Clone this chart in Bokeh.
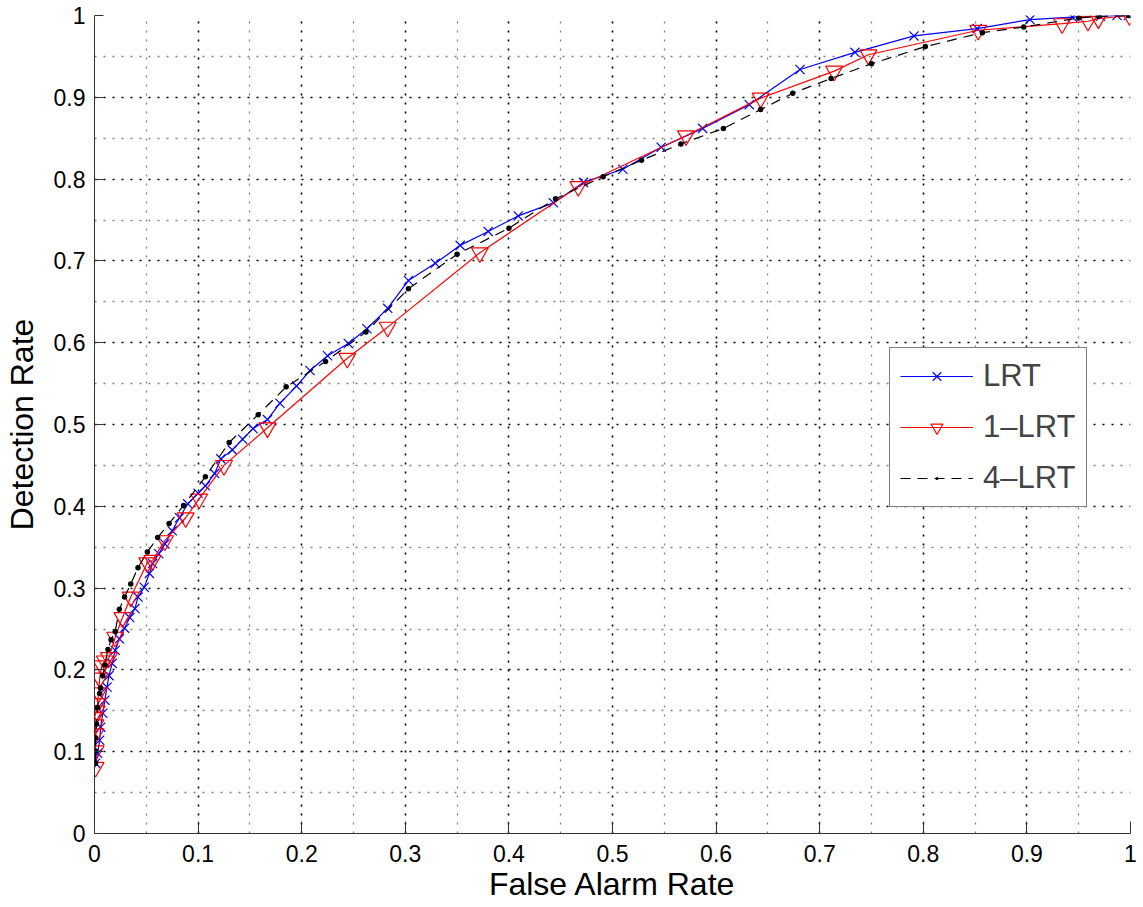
from bokeh.plotting import figure
from bokeh.models import FixedTicker, Legend, LegendItem, Range1d
from bokeh.embed import file_html
from bokeh.resources import INLINE

# ---- data ----
lrt_x = [0.001, 0.003, 0.005, 0.006, 0.008, 0.010, 0.012, 0.014, 0.017, 0.020,
         0.024, 0.029, 0.034, 0.039, 0.042, 0.048, 0.053, 0.056, 0.062, 0.068,
         0.075, 0.082, 0.090, 0.100, 0.107, 0.116, 0.122, 0.133, 0.143, 0.153,
         0.167, 0.179, 0.195, 0.208, 0.225, 0.245, 0.263, 0.283, 0.303, 0.329,
         0.353, 0.380, 0.409, 0.443, 0.472, 0.510, 0.547, 0.587, 0.632, 0.681,
         0.734, 0.791, 0.852, 0.903, 0.944, 0.971, 0.987, 0.998]
lrt_y = [0.086, 0.098, 0.114, 0.130, 0.147, 0.163, 0.179, 0.193, 0.208, 0.224,
         0.238, 0.251, 0.264, 0.275, 0.289, 0.301, 0.318, 0.330, 0.342, 0.354,
         0.370, 0.386, 0.403, 0.416, 0.425, 0.440, 0.458, 0.469, 0.482, 0.495,
         0.506, 0.526, 0.547, 0.566, 0.584, 0.599, 0.617, 0.642, 0.676, 0.697,
         0.719, 0.736, 0.755, 0.771, 0.796, 0.812, 0.839, 0.862, 0.891, 0.934,
         0.955, 0.975, 0.984, 0.995, 0.998, 0.999, 1.000, 1.000]

lrt1_x = [0.001, 0.001, 0.001, 0.001, 0.000, 0.002, 0.003, 0.004, 0.005, 0.007,
          0.010, 0.014, 0.020, 0.027, 0.035, 0.051, 0.056, 0.068, 0.088, 0.101,
          0.125, 0.167, 0.244, 0.283, 0.372, 0.467, 0.571, 0.643, 0.714, 0.747,
          0.853, 0.934, 0.959, 0.969, 0.999]
lrt1_y = [0.081, 0.101, 0.122, 0.133, 0.142, 0.150, 0.159, 0.172, 0.190, 0.205,
          0.211, 0.215, 0.240, 0.264, 0.289, 0.331, 0.334, 0.358, 0.386, 0.409,
          0.450, 0.496, 0.581, 0.619, 0.710, 0.791, 0.853, 0.899, 0.932, 0.952,
          0.982, 0.990, 0.993, 0.996, 1.000]

lrt4_x = [0.001, 0.001, 0.001, 0.002, 0.003, 0.005, 0.006, 0.008, 0.010, 0.013,
          0.016, 0.020, 0.024, 0.029, 0.035, 0.042, 0.051, 0.061, 0.072, 0.086,
          0.107, 0.130, 0.158, 0.185, 0.223, 0.262, 0.303, 0.350, 0.400, 0.445,
          0.491, 0.528, 0.566, 0.607, 0.643, 0.674, 0.711, 0.750, 0.802, 0.857,
          0.897, 0.950, 0.969, 0.998]
lrt4_y = [0.086, 0.101, 0.117, 0.134, 0.154, 0.171, 0.178, 0.193, 0.206, 0.225,
          0.237, 0.247, 0.274, 0.289, 0.305, 0.325, 0.344, 0.362, 0.379, 0.401,
          0.436, 0.478, 0.512, 0.546, 0.577, 0.613, 0.666, 0.708, 0.740, 0.776,
          0.803, 0.823, 0.843, 0.862, 0.885, 0.905, 0.923, 0.941, 0.962, 0.979,
          0.986, 0.997, 0.999, 1.000]

tick_values = [0, 0.1, 0.2, 0.3, 0.4, 0.5, 0.6, 0.7, 0.8, 0.9, 1]
tick_labels = ["0", "0.1", "0.2", "0.3", "0.4", "0.5", "0.6", "0.7", "0.8", "0.9", "1"]
minor_values = [0.05, 0.15, 0.25, 0.35, 0.45, 0.55, 0.65, 0.75, 0.85, 0.95]

series_names = ["LRT", "1\u2013LRT", "4\u2013LRT"]
x_title = "False Alarm Rate"
y_title = "Detection Rate"

FONT = "Liberation Sans"

p = figure(width=1143, height=907, output_backend="svg", toolbar_location=None,
           x_range=Range1d(0, 1), y_range=Range1d(0, 1),
           min_border_left=92, min_border_right=13, min_border_top=15,
           min_border_bottom=74)
p.outline_line_color = None
p.background_fill_color = "white"
p.border_fill_color = "white"

for ax, lab, tick_in in ((p.xaxis[0], x_title, 12), (p.yaxis[0], y_title, 9)):
    ax.ticker = FixedTicker(ticks=tick_values, minor_ticks=minor_values)
    ax.major_label_overrides = dict(zip(tick_values, tick_labels))
    ax.axis_label = lab
    ax.axis_label_text_font = FONT
    ax.axis_label_text_font_style = "normal"
    ax.axis_label_text_font_size = "32px"
    ax.axis_label_text_color = "black"
    ax.major_label_text_font = FONT
    ax.major_label_text_font_size = "23px"
    ax.major_label_text_color = "black"
    ax.major_tick_in = tick_in
    ax.major_tick_out = 0
    ax.minor_tick_line_color = None
    ax.axis_line_color = "#333333"
    ax.major_tick_line_color = "#333333"

p.xaxis[0].major_label_standoff = 7
p.xaxis[0].axis_label_standoff = 1
p.yaxis[0].major_label_standoff = 5
p.yaxis[0].axis_label_standoff = 11

for g in (p.xgrid[0], p.ygrid[0]):
    g.grid_line_color = "black"
    g.grid_line_dash = "2 7"
    g.grid_line_width = 1.6
    g.minor_grid_line_color = "#808080"
    g.minor_grid_line_dash = "2 7"
    g.minor_grid_line_width = 1.3

l1 = p.line(lrt_x, lrt_y, line_color="#0000ff", line_width=1.2)
s1 = p.scatter(lrt_x, lrt_y, marker="x", size=13, line_color="#0000ff", line_width=1.2)

l2 = p.line(lrt1_x, lrt1_y, line_color="#ff0000", line_width=1.2)
s2 = p.scatter(lrt1_x, lrt1_y, marker="inverted_triangle", size=17,
               line_color="#ff0000", fill_color=None, line_width=1.2)

l3 = p.line(lrt4_x, lrt4_y, line_color="black", line_width=1.2, line_dash="10 7")
s3 = p.scatter(lrt4_x, lrt4_y, marker="dot", size=22, line_color="black",
               fill_color="black")

legend = Legend(items=[LegendItem(label=series_names[0], renderers=[l1, s1]),
                       LegendItem(label=series_names[1], renderers=[l2, s2]),
                       LegendItem(label=series_names[2], renderers=[l3, s3])],
                location=(795, 326))
legend.border_line_color = "black"
legend.border_line_width = 1.2
legend.background_fill_color = "white"
legend.background_fill_alpha = 1.0
legend.label_text_font = FONT
legend.label_text_font_size = "31px"
legend.glyph_width = 73
legend.glyph_height = 30
legend.label_height = 30
legend.spacing = 15
legend.padding = 10
legend.margin = 0
legend.label_standoff = 10
p.add_layout(legend)

open("out.html", "w").write(file_html(p, INLINE))
